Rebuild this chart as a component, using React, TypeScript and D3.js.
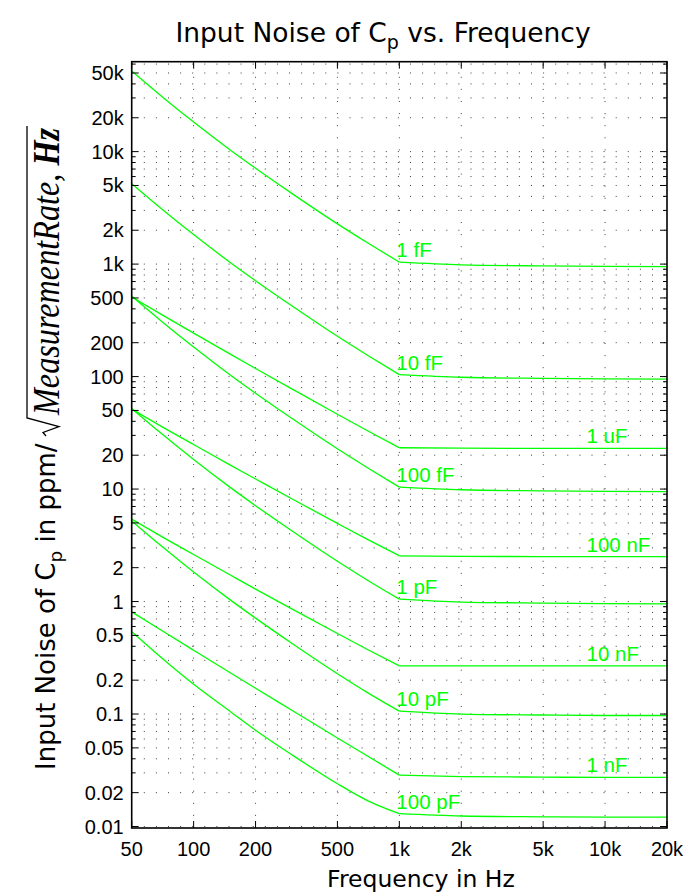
import React from "react";
import * as d3 from "d3";

const freqs = [50, 70, 100, 150, 200, 300, 500, 700, 1000, 2000, 5000, 10000, 20000];

const seriesNames = ["1 fF", "10 fF", "100 fF", "1 pF", "10 pF", "100 pF", "1 uF", "100 nF", "10 nF", "1 nF"];

const noise1fF = [52000, 30950, 18300, 10400, 7120, 4256, 2280, 1548, 1040, 986, 964, 955, 950];
const noise10fF = [5200, 3095, 1830, 1040, 712, 425.6, 228, 154.8, 104, 98.6, 96.4, 95.5, 95];
const noise100fF = [520, 309.5, 183, 104, 71.2, 42.56, 22.8, 15.48, 10.4, 9.86, 9.64, 9.55, 9.5];
const noise1pF = [52, 30.95, 18.3, 10.4, 7.12, 4.256, 2.28, 1.548, 1.05, 0.99, 0.97, 0.96, 0.955];
const noise10pF = [5.2, 3.095, 1.83, 1.04, 0.712, 0.4256, 0.228, 0.155, 0.106, 0.1, 0.098, 0.097, 0.097];
const noise100pF = [0.54, 0.315, 0.184, 0.106, 0.0718, 0.0435, 0.024, 0.017, 0.013, 0.0124, 0.0122, 0.0121, 0.0121];
const noise1uF = [510, 355.8, 243.7, 159.3, 118.1, 77.8, 46.2, 33.0, 23.3, 23.1, 23.0, 23.0, 23.0];
const noise100nF = [51.4, 35.9, 24.9, 16.4, 12.3, 8.2, 4.95, 3.57, 2.55, 2.52, 2.51, 2.51, 2.51];
const noise10nF = [5.4, 3.78, 2.62, 1.73, 1.29, 0.86, 0.52, 0.375, 0.268, 0.268, 0.268, 0.268, 0.268];
const noise1nF = [0.81, 0.552, 0.369, 0.234, 0.1696, 0.1081, 0.0613, 0.0423, 0.0286, 0.0278, 0.0275, 0.0273, 0.0273];

const seriesValues = [noise1fF, noise10fF, noise100fF, noise1pF, noise10pF, noise100pF, noise1uF, noise100nF, noise10nF, noise1nF];
// label anchor: frequency where the label starts
const labelFreqs = [1000, 1000, 1000, 1000, 1000, 1000, 8400, 8400, 8400, 8400];

const xTicks = [50, 100, 200, 500, 1000, 2000, 5000, 10000, 20000];
const xTickLabels = ["50", "100", "200", "500", "1k", "2k", "5k", "10k", "20k"];
const yTicks = [0.01, 0.02, 0.05, 0.1, 0.2, 0.5, 1, 2, 5, 10, 20, 50, 100, 200, 500, 1000, 2000, 5000, 10000, 20000, 50000];
const yTickLabels = ["0.01", "0.02", "0.05", "0.1", "0.2", "0.5", "1", "2", "5", "10", "20", "50", "100", "200", "500", "1k", "2k", "5k", "10k", "20k", "50k"];

const W = 685;
const H = 895;
const L = 131.7, R = 667, T = 61.7, B = 828;
const KNEE = 1000;

export default function App() {
  const x = d3.scaleLog().domain([50, 20000]).range([L, R]);
  const y = d3.scaleLog().domain([0.0097, 63000]).range([B, T]);

  const minorY: number[] = [];
  for (let e = -2; e <= 4; e++) {
    for (let k = 1; k <= 9; k++) {
      const v = k * Math.pow(10, e);
      if (v >= 0.0097 && v <= 63000) minorY.push(v);
    }
  }
  const isMajorY = (v: number) => yTicks.some((t) => Math.abs(t - v) / t < 1e-6);

  const line = d3
    .line<[number, number]>()
    .x((d) => x(d[0]))
    .y((d) => y(d[1]))
    .curve(d3.curveMonotoneX);

  const sans = "'Liberation Sans', Arial, Helvetica, sans-serif";
  const vera = "'DejaVu Sans', Verdana, sans-serif";
  const green = "#00ff00";

  return (
    <svg width={W} height={H} style={{ position: "absolute", left: 0, top: 0, background: "#fff" }}>
      <rect x={0} y={0} width={W} height={H} fill="#fff" />
      {/* title */}
      <text x={383} y={42} textAnchor="middle" fontFamily={vera} fontSize={26.5} fill="#000">
        Input Noise of C
        <tspan dy={7} fontSize={19}>p</tspan>
        <tspan dy={-7}> vs. Frequency</tspan>
      </text>

      {/* grid */}
      <g stroke="#000" strokeWidth={1} strokeDasharray="1 11.1" opacity={0.75}>
        {minorY.map((v) => (
          <line key={"gy" + v} x1={L} x2={R} y1={y(v)} y2={y(v)} />
        ))}
        {xTicks.slice(1, -1).map((v) => (
          <line key={"gx" + v} x1={x(v)} x2={x(v)} y1={B} y2={T} />
        ))}
      </g>

      {/* curves */}
      <g fill="none" stroke={green} strokeWidth={1.3}>
        {seriesValues.map((vals, i) => {
          const pts = freqs.map((f, j) => [f, vals[j]] as [number, number]);
          const low = pts.filter((p) => p[0] <= KNEE);
          const high = pts.filter((p) => p[0] >= KNEE);
          return (
            <g key={"s" + i}>
              <path d={line(low) || ""} />
              <path d={line(high) || ""} />
            </g>
          );
        })}
      </g>
      <g fontFamily={sans} fontSize={20.5} fill={green}>
        {seriesValues.map((vals, i) => {
          const lf = labelFreqs[i];
          const j = freqs.findIndex((f) => f >= lf);
          const yy = lf === KNEE ? y(vals[freqs.indexOf(KNEE)]) : y(vals[j]);
          return (
            <text key={"l" + i} x={x(lf) - 3} y={yy - 5}>
              {seriesNames[i]}
            </text>
          );
        })}
      </g>

      {/* ticks */}
      <g stroke="#000" strokeWidth={1}>
        {minorY.map((v) => {
          const len = isMajorY(v) ? 7 : 4;
          return (
            <g key={"ty" + v}>
              <line x1={L} x2={L + len} y1={y(v)} y2={y(v)} />
              <line x1={R} x2={R - len} y1={y(v)} y2={y(v)} />
            </g>
          );
        })}
        {xTicks.map((v) => (
          <g key={"tx" + v}>
            <line x1={x(v)} x2={x(v)} y1={B} y2={B - 7} />
            <line x1={x(v)} x2={x(v)} y1={T} y2={T + 7} />
          </g>
        ))}
      </g>
      <rect x={L} y={T} width={R - L} height={B - T} fill="none" stroke="#000" strokeWidth={1.6} />

      {/* tick labels */}
      <g fontFamily={sans} fontSize={20} fill="#000">
        {yTicks.map((v, i) => (
          <text key={"yl" + v} x={L - 8} y={y(v)} dy="0.35em" textAnchor="end">
            {yTickLabels[i]}
          </text>
        ))}
        {xTicks.map((v, i) => (
          <text key={"xl" + v} x={x(v)} y={856} textAnchor="middle">
            {xTickLabels[i]}
          </text>
        ))}
      </g>

      {/* x label */}
      <text x={421} y={887} textAnchor="middle" fontFamily={vera} fontSize={23.5} fill="#000">
        Frequency in Hz
      </text>

      {/* y label */}
      <g transform="rotate(-90)">
        <text x={-770} y={55} fontFamily={vera} fontSize={26} fill="#000">
          Input Noise of C
          <tspan dy={7} fontSize={18.5}>p</tspan>
          <tspan dy={-7}> in ppm/</tspan>
        </text>
        <path
          d="M -436 46 L -432.5 43 L -426.5 59 L -418 27 L -126 27"
          fill="none"
          stroke="#000"
          strokeWidth={1.3}
        />
        <text
          x={-415}
          y={59}
          fontFamily="'Liberation Serif', 'Times New Roman', serif"
          fontStyle="italic"
          fontSize={37}
          fill="#000"
          textLength={287}
          lengthAdjust="spacingAndGlyphs"
        >
          MeasurementRate,{" "}
          <tspan fontWeight="bold">Hz</tspan>
        </text>
      </g>
    </svg>
  );
}
